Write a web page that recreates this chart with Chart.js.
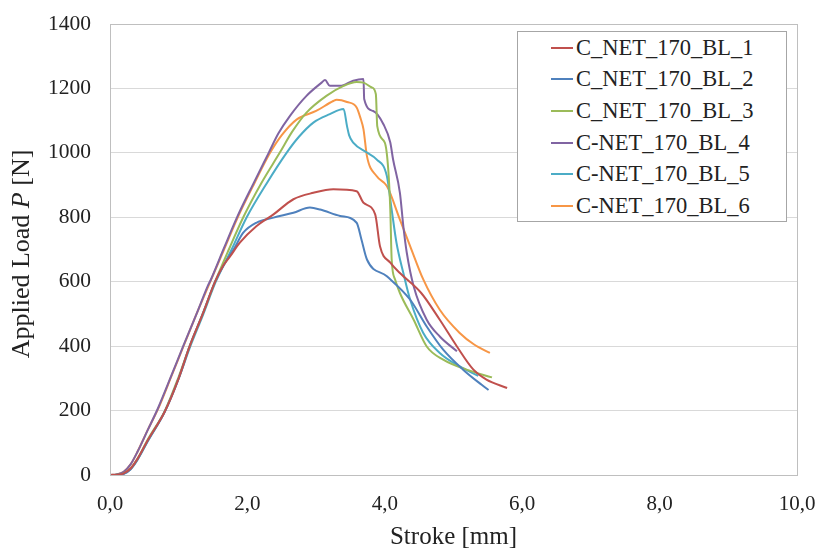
<!DOCTYPE html>
<html>
<head>
<meta charset="utf-8">
<script src="https://cdn.jsdelivr.net/npm/chart.js@4.4.1/dist/chart.umd.min.js"></script>
<style>
  body { margin: 0; background: #fff; }
  #wrap { position: relative; width: 817px; height: 552px; }
  #legend {
    position: absolute; left: 517px; top: 31px; width: 268px; height: 189px;
    border: 1px solid #a6a6a6; background: #fff; box-sizing: content-box;
    font-family: "Liberation Serif", "Times New Roman", serif; font-size: 22.5px; color: #222;
  }
  .item { height: 31.6px; display: flex; align-items: center; padding-left: 33px; white-space: nowrap; }
  .swatch { width: 22px; height: 2px; margin-right: 3px; }
</style>
</head>
<body>
<div id="wrap">
  <canvas id="chart" width="817" height="552"></canvas>
  <div id="legend"></div>
</div>
<script>
// curvas carga - desplazamiento (mm, N)
const bl1 = [[0,0],[0.1,1],[0.2,5],[0.3,20],[0.4,50],[0.55,108],[0.8,198],[1.0,300],[1.16,400],[1.35,500],[1.53,600],[1.65,650],[1.75,679],[1.89,721],[2.13,772],[2.38,809],[2.67,856],[2.96,876],[3.25,887],[3.59,881],[3.69,845],[3.86,809],[3.93,710],[4.08,659],[4.22,627],[4.53,565],[4.80,482],[5.05,399],[5.29,327],[5.48,296],[5.78,270]];
const bl2 = [[0,0],[0.1,1],[0.2,4],[0.3,18],[0.4,48],[0.55,106],[0.8,198],[1.0,300],[1.16,400],[1.35,500],[1.53,600],[1.68,660],[1.80,700],[1.94,752],[2.13,783],[2.38,799],[2.67,814],[2.91,830],[3.06,824],[3.35,804],[3.59,783],[3.66,731],[3.74,669],[4.03,617],[4.37,544],[4.61,461],[4.85,389],[5.14,327],[5.41,280],[5.51,264]];
const bl3 = [[0,0],[0.1,1],[0.2,5],[0.3,20],[0.4,50],[0.55,110],[0.8,200],[1.0,305],[1.16,400],[1.35,500],[1.53,600],[1.73,700],[1.94,800],[2.2,905],[2.47,1000],[2.65,1065],[2.86,1125],[3.15,1177],[3.40,1208],[3.59,1220],[3.69,1218],[3.81,1203],[3.87,1182],[3.89,1083],[4.0,1032],[4.05,949],[4.08,824],[4.1,669],[4.15,607],[4.22,565],[4.42,482],[4.61,399],[4.85,358],[5.19,327],[5.56,303]];
const bl4 = [[0,0],[0.1,2],[0.2,10],[0.3,33],[0.4,72],[0.55,140],[0.7,208],[0.9,312],[1.07,402],[1.26,500],[1.43,590],[1.46,603],[1.66,705],[1.86,805],[2.1,910],[2.31,1000],[2.45,1060],[2.62,1115],[2.86,1177],[3.08,1218],[3.13,1226],[3.2,1208],[3.35,1208],[3.54,1224],[3.69,1229],[3.7,1167],[3.83,1130],[3.98,1089],[4.08,1032],[4.12,980],[4.22,876],[4.27,772],[4.32,690],[4.42,586],[4.61,482],[4.80,430],[5.05,384]];
const bl5 = [[0,0],[0.1,1],[0.2,4],[0.3,18],[0.4,47],[0.55,105],[0.8,198],[1.0,300],[1.17,400],[1.35,495],[1.54,600],[1.77,700],[1.99,800],[2.28,905],[2.57,1000],[2.75,1050],[2.96,1094],[3.2,1120],[3.40,1136],[3.45,1083],[3.48,1055],[3.54,1032],[3.74,1001],[3.88,980],[4.03,928],[4.1,824],[4.17,721],[4.27,627],[4.37,544],[4.56,441],[4.80,379],[5.09,337],[5.36,308]];
const bl6 = [[0,0],[0.1,2],[0.2,10],[0.3,33],[0.4,72],[0.55,140],[0.7,205],[0.9,310],[1.07,400],[1.26,500],[1.46,600],[1.66,700],[1.86,800],[2.1,905],[2.33,1000],[2.5,1055],[2.72,1104],[3.0,1130],[3.25,1161],[3.3,1165],[3.45,1158],[3.59,1141],[3.65,1105],[3.69,1073],[3.74,990],[3.88,928],[4.03,897],[4.22,793],[4.37,710],[4.56,607],[4.80,513],[5.09,441],[5.3,405],[5.53,379]];

const seriesNames = ['C_NET_170_BL_1', 'C_NET_170_BL_2', 'C_NET_170_BL_3', 'C-NET_170_BL_4', 'C-NET_170_BL_5', 'C-NET_170_BL_6'];
const seriesData = [bl1, bl2, bl3, bl4, bl5, bl6];
const colors = ['#C0504D', '#4F81BD', '#9BBB59', '#8064A2', '#4BACC6', '#F79646'];

const serif = '"Liberation Serif", "Times New Roman", serif';

const datasets = seriesData.map((pts, i) => ({
    label: seriesNames[i],
    data: pts.map(p => ({x: p[0], y: p[1]})),
    borderColor: colors[i],
    borderWidth: 2,
    pointRadius: 0,
    cubicInterpolationMode: 'monotone',
    fill: false
}));

// borde del area de trazado y titulo del eje y con P en cursiva
const framePlugin = {
    id: 'frame',
    afterDraw(chart) {
        const {ctx, chartArea: a} = chart;
        ctx.save();
        ctx.strokeStyle = '#bfbfbf';
        ctx.lineWidth = 1;
        ctx.strokeRect(a.left + 0.5, a.top + 0.5, a.right - a.left, a.bottom - a.top);
        ctx.translate(22, 254);
        ctx.rotate(-Math.PI / 2);
        ctx.fillStyle = '#222';
        ctx.textBaseline = 'middle';
        const parts = [['Applied Load ', 'normal'], ['P', 'italic'], [' [N]', 'normal']];
        let total = 0;
        parts.forEach(p => { ctx.font = p[1] + ' 26px ' + serif; total += ctx.measureText(p[0]).width; });
        let x = -total / 2;
        parts.forEach(p => {
            ctx.font = p[1] + ' 26px ' + serif;
            ctx.fillText(p[0], x, 0);
            x += ctx.measureText(p[0]).width;
        });
        ctx.restore();
    }
};

const chart = new Chart(document.getElementById('chart'), {
    type: 'line',
    data: { datasets },
    options: {
        responsive: false,
        animation: false,
        layout: { padding: { top: 24, right: 20, left: 0, bottom: 0 } },
        plugins: { legend: { display: false }, tooltip: { enabled: false } },
        scales: {
            x: {
                type: 'linear', min: 0, max: 10,
                grid: { display: false },
                border: { color: '#bfbfbf' },
                ticks: {
                    stepSize: 2, color: '#222', padding: 9,
                    font: { family: serif, size: 21 },
                    callback: v => v.toFixed(1).replace('.', ',')
                },
                title: { display: true, text: 'Stroke [mm]', color: '#222', font: { family: serif, size: 25 }, padding: { top: 0, bottom: 0 } },
                afterFit: s => { s.height = 77; s.paddingLeft = 0; s.paddingRight = 0; }
            },
            y: {
                min: 0, max: 1400,
                grid: { color: '#d9d9d9', drawTicks: false },
                border: { color: '#bfbfbf' },
                ticks: { stepSize: 200, color: '#222', padding: 19, font: { family: serif, size: 21.5 }, callback: v => String(v) },
                afterFit: s => { s.width = 110; s.paddingTop = 0; s.paddingBottom = 0; }
            }
        }
    },
    plugins: [framePlugin]
});

// leyenda en html dentro del area
const legend = document.getElementById('legend');
seriesNames.forEach((name, i) => {
    const row = document.createElement('div');
    row.className = 'item';
    row.innerHTML = `<span class="swatch" style="background:${colors[i]}"></span><span>${name}</span>`;
    legend.appendChild(row);
});
</script>
</body>
</html>
